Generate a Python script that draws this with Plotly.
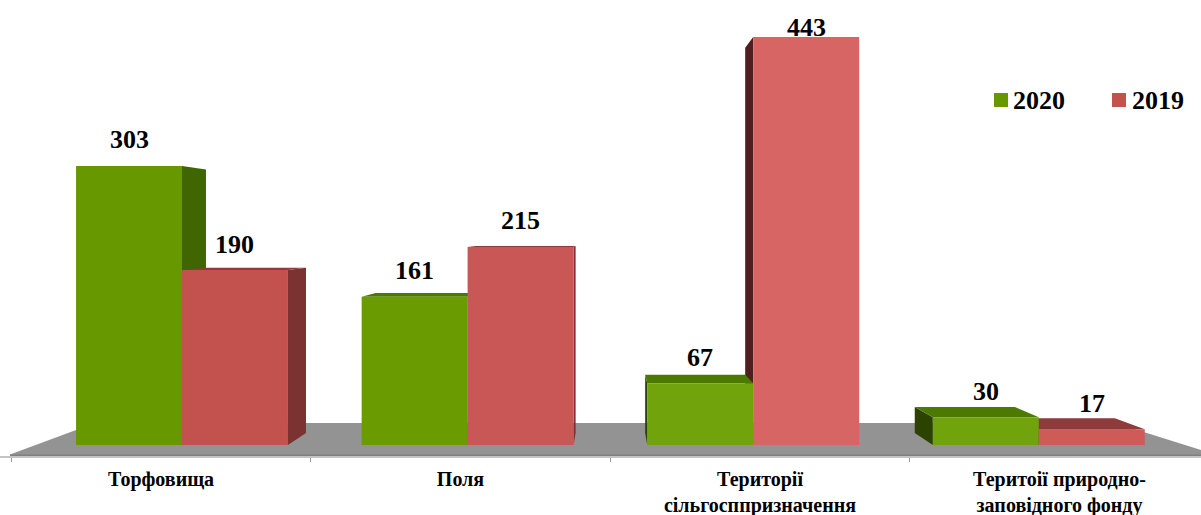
import plotly.graph_objects as go

# ---- data ----
categories = ["Торфовища", "Поля", "Території<br>сільгосппризначення", "Теритоії природно-<br>заповідного фонду"]
series_names = ["2020", "2019"]
values_2020 = [303, 161, 67, 30]
values_2019 = [190, 215, 443, 17]

colors_2020 = ["#679800", "#6a9c02", "#70a30c", "#70a30c"]
colors_2019 = ["#c3524f", "#c95755", "#d66563", "#cf5b59"]

W, H = 1201, 515
BASE_PX, PX_PER_UNIT = 445.0, 0.921
FIRST_GROUP_PX, GROUP_PX, BAR_WIDTH = 182.0, 285.6, 0.371
LABEL_FIRST_PX, LABEL_STEP_PX = 161.0, 299.5

y_range = [(BASE_PX - H) / PX_PER_UNIT, BASE_PX / PX_PER_UNIT]
x_range = [-FIRST_GROUP_PX / GROUP_PX, (W - FIRST_GROUP_PX) / GROUP_PX]
x3_range = [-LABEL_FIRST_PX / LABEL_STEP_PX, (W - LABEL_FIRST_PX) / LABEL_STEP_PX]

# One-point perspective shared by every extruded bar
VAN_X, VAN_Y, DEPTH = (610 - FIRST_GROUP_PX) / GROUP_PX, (BASE_PX - 231) / PX_PER_UNIT, 0.056


def back(x, y):
    return x + (VAN_X - x) * DEPTH, y + (VAN_Y - y) * DEPTH


def poly(pts, color):
    return go.Scatter(
        x=[p[0] for p in pts] + [pts[0][0]], y=[p[1] for p in pts] + [pts[0][1]],
        mode="lines", line=dict(width=0), fill="toself", fillcolor=color,
        hoverinfo="skip", showlegend=False, xaxis="x", yaxis="y",
    )


def side_color(series, x):
    if series == 2020:
        return "#3f6600" if x < VAN_X else "#2c4200"
    return "#7d3232" if x < VAN_X else "#4f1f1f"


sides, tops = [], []
for series, vals, off in [(2020, values_2020, -BAR_WIDTH), (2019, values_2019, 0.0)]:
    for i, v in enumerate(vals):
        x0, x1 = i + off, i + off + BAR_WIDTH
        if x1 < VAN_X:
            sides.append(poly([(x1, 0), back(x1, 0), back(x1, v), (x1, v)], side_color(series, x1)))
        if x0 > VAN_X:
            sides.append(poly([(x0, 0), back(x0, 0), back(x0, v), (x0, v)], side_color(series, x0)))
        if v < VAN_Y:
            top = "#4c7a00" if series == 2020 else "#8f3b3b"
            tops.append(poly([(x0, v), (x1, v), back(x1, v), back(x0, v)], top))

fig = go.Figure()
for t in sides + tops:
    fig.add_trace(t)

fig.add_trace(go.Bar(x=list(range(4)), y=values_2020, name=series_names[0], marker=dict(color=colors_2020, line=dict(width=0)),
                     showlegend=False, xaxis="x2", yaxis="y2", offsetgroup="a"))
fig.add_trace(go.Bar(x=list(range(4)), y=values_2019, name=series_names[1], marker=dict(color=colors_2019, line=dict(width=0)),
                     showlegend=False, xaxis="x2", yaxis="y2", offsetgroup="b"))
fig.add_trace(go.Scatter(x=categories, y=[0, 0, 0, 0], mode="markers", marker=dict(opacity=0),
                         hoverinfo="skip", showlegend=False, xaxis="x3", yaxis="y"))

LABEL_FONT = dict(family="Liberation Serif", size=26, color="#000000")

annotations = []
for vals, shift in [(values_2020, -BAR_WIDTH / 2), (values_2019, BAR_WIDTH / 2)]:
    for i, v in enumerate(vals):
        annotations.append(dict(
            x=i + shift, y=v, xref="x2", yref="y2", text=f"<b>{v}</b>", showarrow=False,
            yanchor="middle", yshift=10 if v == max(values_2019) else 26,
            font=LABEL_FONT,
        ))


def fx(px):
    return px / W


def fy(py):
    return 1 - py / H


# legend key, drawn by hand so swatch and text sit exactly where the reference has them
legend_shapes = []
for name, color, sw_x, tx_x in [(series_names[0], "#679800", 994, 1013), (series_names[1], "#c3524f", 1112, 1132)]:
    legend_shapes.append(dict(type="rect", xref="paper", yref="paper", x0=fx(sw_x), x1=fx(sw_x + 14),
                              y0=fy(107), y1=fy(93), fillcolor=color, line=dict(width=0)))
    annotations.append(dict(x=fx(tx_x), y=fy(100), xref="paper", yref="paper", xanchor="left", yanchor="middle",
                            text=f"<b>{name}</b>", showarrow=False, font=LABEL_FONT, borderpad=0, xshift=-1))

floor = (f"M {fx(10)} {fy(454.5)} L {fx(95)} {fy(423)} L {fx(1115)} {fy(423)} "
         f"L {fx(1201)} {fy(450)} L {fx(1201)} {fy(456.5)} L {fx(10)} {fy(456.5)} Z")
strip = f"M {fx(10)} {fy(454.5)} L {fx(1201)} {fy(454.5)} L {fx(1201)} {fy(456.5)} L {fx(10)} {fy(456.5)} Z"

hidden = dict(visible=False, showgrid=False, zeroline=False)
fig.update_layout(
    width=W, height=H,
    margin=dict(l=0, r=0, t=0, b=0, autoexpand=False),
    paper_bgcolor="#ffffff", plot_bgcolor="rgba(0,0,0,0)",
    barmode="group", bargap=1 - 2 * BAR_WIDTH, bargroupgap=0,
    xaxis=dict(range=x_range, **hidden),
    yaxis=dict(range=y_range, **hidden),
    xaxis2=dict(range=x_range, overlaying="x", **hidden),
    yaxis2=dict(range=y_range, overlaying="y", **hidden),
    xaxis3=dict(
        type="category", categoryorder="array", categoryarray=categories,
        range=x3_range, overlaying="x", anchor="free", position=fy(457), side="bottom",
        tickson="boundaries", ticks="outside", ticklen=4, tickcolor="#9a9a9a", tickwidth=1,
        showline=True, linecolor="#c4c4c4", linewidth=1.5, showgrid=False, zeroline=False,
        tickangle=0, ticklabelstandoff=4,
        tickfont=dict(family="Liberation Serif", size=20, color="#000000", weight="bold"),
    ),
    annotations=annotations,
    shapes=[
        dict(type="path", path=floor, xref="paper", yref="paper", fillcolor="#939393", line=dict(width=0), layer="below"),
        dict(type="path", path=strip, xref="paper", yref="paper", fillcolor="#808080", line=dict(width=0), layer="below"),
    ] + legend_shapes,
    showlegend=False,
)

fig.write_html("out.html", config={"displayModeBar": False},
               post_script="document.body.style.margin='0';document.body.style.overflow='hidden';")
